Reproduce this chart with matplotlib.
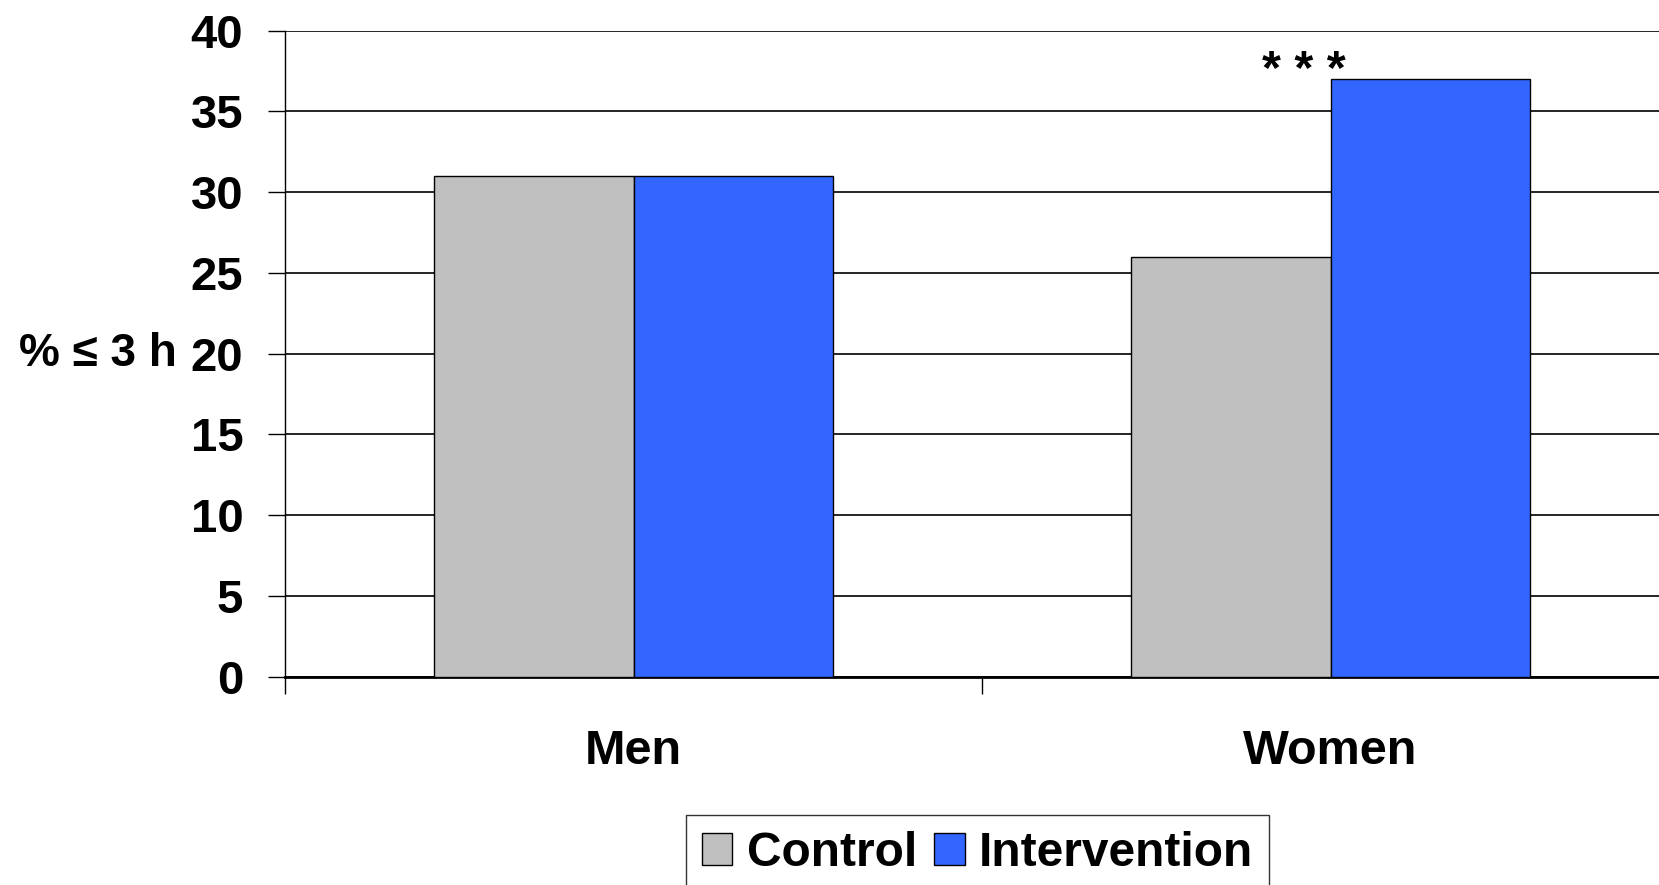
import matplotlib
matplotlib.use("Agg")
import matplotlib.pyplot as plt
import numpy as np

# data
groups = ["Men", "Women"]
control = [31, 26]
intervention = [31, 37]
series_names = ["Control", "Intervention"]
yticks = [0, 5, 10, 15, 20, 25, 30, 35, 40]
ylabel = "% ≤ 3 h"
signif = "* * *"

GRAY = "#C0C0C0"
BLUE = "#3366FF"
FS = 33

plt.rcParams["font.family"] = ["Liberation Sans", "DejaVu Sans"]
plt.rcParams["font.weight"] = "bold"

fig = plt.figure(figsize=(16.59, 8.85), dpi=100)
ax = fig.add_axes([285 / 1659, 208.3 / 885, 1394 / 1659, 646 / 885])

x = np.arange(len(groups))
w = 0.2857
ax.bar(x - w / 2, control, w, color=GRAY, edgecolor="black", lw=1.0,
       label=series_names[0], zorder=3)
ax.bar(x + w / 2, intervention, w, color=BLUE, edgecolor="black", lw=1.0,
       label=series_names[1], zorder=3)

ax.set_xlim(-0.5, len(groups) - 0.5)
ax.set_ylim(0, 40)
ax.set_yticks(yticks)
ax.set_yticklabels([str(v) for v in yticks], fontsize=34, fontweight="bold")
ax.yaxis.grid(True, color="black", lw=1.2, zorder=0)
ax.set_axisbelow(True)

# category boundaries carry the ticks, labels sit in between
ax.set_xticks(np.arange(-0.5, len(groups)), minor=False)
ax.set_xticklabels([])
ax.set_xticks(x, minor=True)
ax.set_xticklabels(groups, minor=True, fontsize=35, fontweight="bold")
ax.tick_params(axis="x", which="major", direction="out", length=12, width=1.0)
ax.tick_params(axis="x", which="minor", length=0, pad=38)
ax.tick_params(axis="y", direction="out", length=12, width=1.0, pad=18)

for s in ("top", "right"):
    ax.spines[s].set_visible(False)
ax.spines["left"].set_linewidth(1.0)
ax.spines["bottom"].set_linewidth(2.0)

ax.set_ylabel(ylabel, rotation=0, ha="right", va="center",
              fontsize=FS, fontweight="bold")
ax.yaxis.set_label_coords(-0.0775, 0.5)

ax.text(0.962, 36.7, signif, ha="center", va="baseline", fontsize=35,
        fontweight="bold")

leg = fig.legend(loc="upper left", bbox_to_anchor=(686 / 1659, 1 - 815 / 885),
                 ncol=2, fontsize=34.5, frameon=True, fancybox=False,
                 edgecolor="black", handlelength=0.64, handleheight=0.64,
                 handletextpad=0.3, columnspacing=0.35, borderpad=0.33,
                 borderaxespad=0)
leg.get_frame().set_linewidth(1.0)
for t in leg.get_texts():
    t.set_fontweight("bold")

fig.savefig("out.png", dpi=100)
